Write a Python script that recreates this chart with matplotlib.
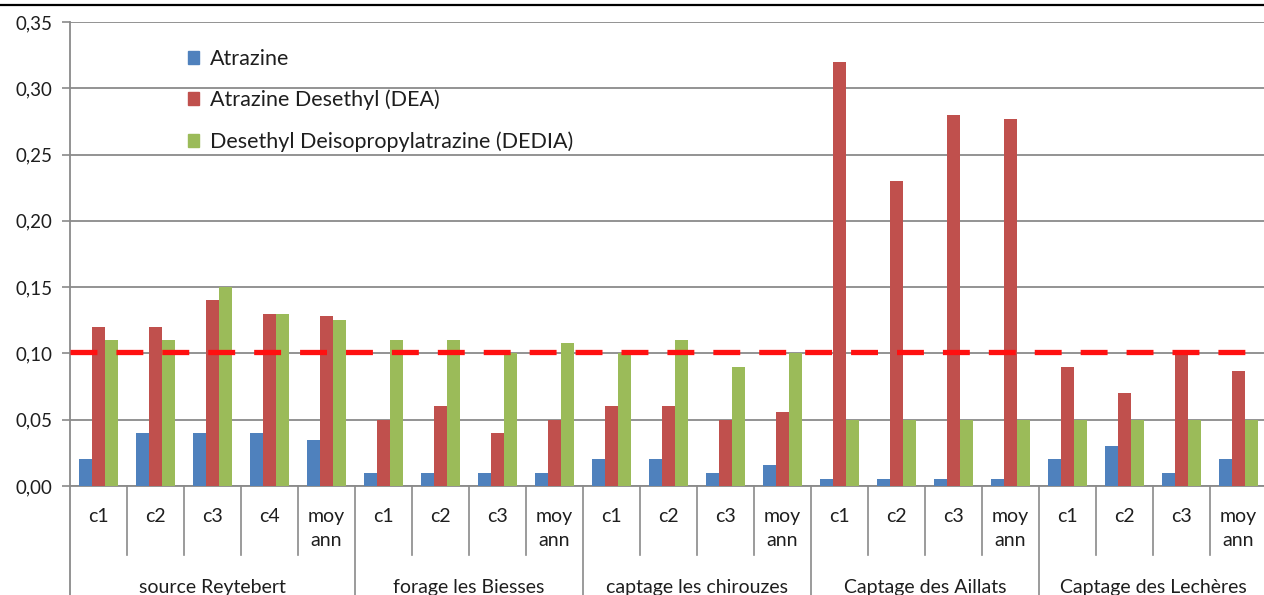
import matplotlib.pyplot as plt
import matplotlib.transforms as mtransforms
from matplotlib.lines import Line2D
from matplotlib.patches import Patch
import numpy as np

plt.rcParams['font.family'] = ['Lato', 'DejaVu Sans']

# sampling campaigns per site
sites = ['source Reytebert', 'forage les Biesses', 'captage les chirouzes',
         'Captage des Aillats', 'Captage des Lechères']
campaigns = [['c1', 'c2', 'c3', 'c4', 'moy\nann'],
             ['c1', 'c2', 'c3', 'moy\nann'],
             ['c1', 'c2', 'c3', 'moy\nann'],
             ['c1', 'c2', 'c3', 'moy\nann'],
             ['c1', 'c2', 'c3', 'moy\nann']]

atrazine = [0.02, 0.04, 0.04, 0.04, 0.035,
            0.01, 0.01, 0.01, 0.01,
            0.02, 0.02, 0.01, 0.016,
            0.005, 0.005, 0.005, 0.005,
            0.02, 0.03, 0.01, 0.02]
dea = [0.12, 0.12, 0.14, 0.13, 0.128,
       0.05, 0.06, 0.04, 0.05,
       0.06, 0.06, 0.05, 0.056,
       0.32, 0.23, 0.28, 0.277,
       0.09, 0.07, 0.10, 0.087]
dedia = [0.11, 0.11, 0.15, 0.13, 0.125,
         0.11, 0.11, 0.10, 0.1075,
         0.10, 0.11, 0.09, 0.10,
         0.05, 0.05, 0.05, 0.05,
         0.05, 0.05, 0.05, 0.05]
limit = 0.101

series = [('Atrazine', atrazine, '#4F81BD'),
          ('Atrazine Desethyl (DEA)', dea, '#C0504D'),
          ('Desethyl Deisopropylatrazine (DEDIA)', dedia, '#9BBB59')]

labels = [c for grp in campaigns for c in grp]
n = len(labels)
x = np.arange(n)
txt = '#1E1E1E'
grey = '#8A8A8A'

fig = plt.figure(figsize=(12.64, 5.95), dpi=100)
ax = fig.add_axes([70 / 1264, 109 / 595, 1197 / 1264, 464 / 595])

w = 0.226
for i, (name, vals, col) in enumerate(series):
    ax.bar(x + (i - 1) * w, vals, width=w, color=col, zorder=3, label=name)

ax.axhline(limit, color='#FF1010', lw=3.8, dashes=(5.1, 3.6), zorder=4,
           solid_capstyle='butt')

ax.set_xlim(-0.5, n - 0.5)
ax.set_ylim(0, 0.35)
ticks = np.arange(0, 0.351, 0.05)
ax.set_yticks(ticks)
ax.set_yticklabels([f'{v:.2f}'.replace('.', ',') for v in ticks])
ax.yaxis.grid(True, color=grey, lw=1.3, zorder=0)
ax.set_xticks([])
ax.tick_params(axis='y', length=5.5, width=1.2, color=grey, labelsize=13.5,
               pad=7, labelcolor=txt)
for s in ['top', 'right']:
    ax.spines[s].set_visible(False)
for s in ['left', 'bottom']:
    ax.spines[s].set_color(grey)
    ax.spines[s].set_linewidth(1.3)

# two-level category axis
trans = mtransforms.blended_transform_factory(ax.transData, ax.transAxes)
for k in range(n):
    ax.text(k, -0.048, labels[k], transform=trans, ha='center', va='top',
            fontsize=14, linespacing=1.5, color=txt)
bounds = np.cumsum([len(g) for g in campaigns])
starts = np.concatenate([[0], bounds[:-1]])
for k in range(1, n):
    full = k in bounds
    ax.plot([k - 0.5, k - 0.5], [0, -0.3 if full else -0.149], transform=trans,
            color=grey, lw=1.2, clip_on=False)
ax.plot([-0.5, -0.5], [0, -0.3], transform=trans, color=grey, lw=1.3,
        clip_on=False)
for name, a, b in zip(sites, starts, bounds):
    ax.text((a + b - 1) / 2, -0.2195, name, transform=trans, ha='center',
            va='center', fontsize=14, color=txt)

handles = [Patch(color=c) for _, _, c in series]
ax.legend(handles, [s[0] for s in series], loc='upper left',
          bbox_to_anchor=(0.0986, 0.942), frameon=False, fontsize=15.5,
          labelcolor=txt, handlelength=0.52, handleheight=0.52,
          handletextpad=0.5, labelspacing=0.97, borderpad=0, borderaxespad=0)

# outer frame edge along the top
fig.add_artist(Line2D([0, 1], [1 - 5 / 595, 1 - 5 / 595], color='black', lw=1.6))

fig.savefig('out.png', dpi=100)
